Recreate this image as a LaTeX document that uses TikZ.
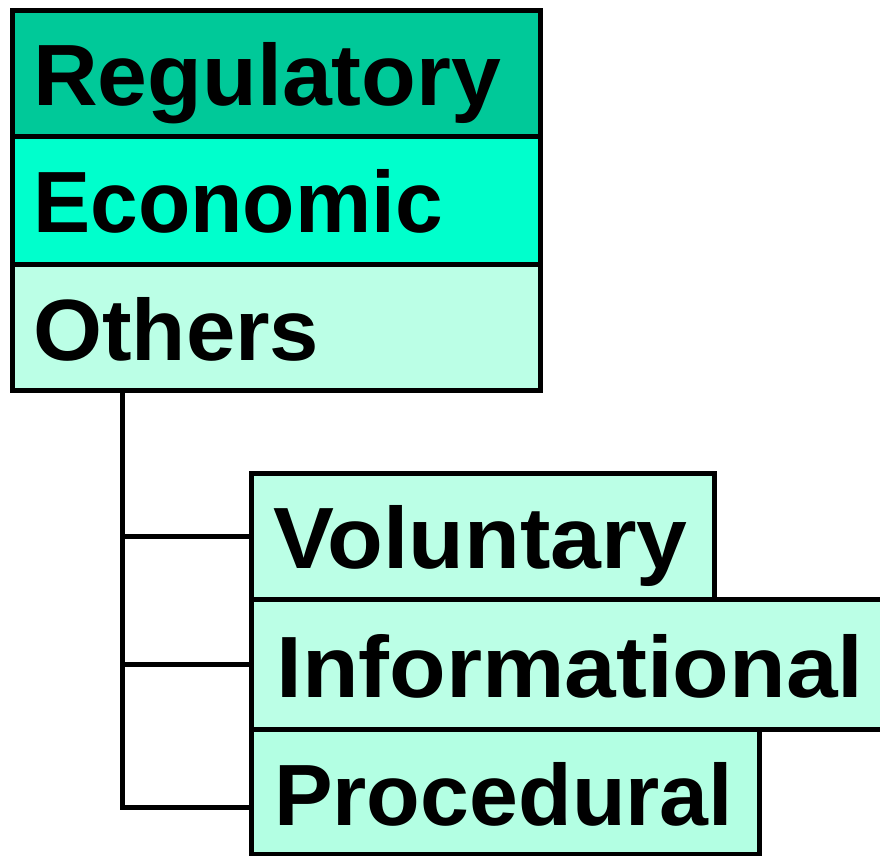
\documentclass[tikz,border=0pt]{standalone}
\usepackage{fontspec}
\setmainfont{Liberation Sans}
\definecolor{regc}{HTML}{00C999}
\definecolor{ecoc}{HTML}{00FFCC}
\definecolor{othc}{HTML}{BBFFE6}
\definecolor{subc}{HTML}{B3FFE3}
\begin{document}
\begin{tikzpicture}[x=1pt,y=-1pt,
  box/.style={draw=black,line width=5pt,rectangle,anchor=north west,inner sep=0pt},
  lbl/.style={anchor=base west,inner sep=0pt,font=\fontsize{87}{90}\selectfont\bfseries},
  conn/.style={draw=black,line width=5pt,line join=miter}]
\useasboundingbox (0,0) rectangle (880,855);
\clip (0,0) rectangle (880,855);
% main stack
\node[box,fill=regc,minimum width=528,minimum height=126.5] (reg) at (9.5,7.5) {};
\node[box,fill=ecoc,minimum width=528,minimum height=128] (eco) at (9.5,134) {};
\node[box,fill=othc,minimum width=528,minimum height=126] (oth) at (9.5,262) {};
\node[lbl,xscale=1.03] (regt) at (33,105) {Regulatory};
\node[lbl,xscale=0.985] (ecot) at (33,232) {Economic};
\node[lbl,xscale=1.02] (otht) at (33,360) {Others};
% sub stack
\node[box,fill=othc,minimum width=463,minimum height=126] (vol) at (249,471) {};
\node[box,fill=othc,minimum width=650,minimum height=130] (inf) at (249,597) {};
\node[box,fill=subc,minimum width=508,minimum height=125] (pro) at (249,727) {};
\node[lbl,xscale=1.05] (volt) at (273,568) {Voluntary};
\node[lbl,xscale=1.066] (inft) at (276,697) {Informational};
\node[lbl,xscale=1.01] (prot) at (274,825) {Procedural};
% connectors
\coordinate (trunk) at (122,388);
\coordinate (pj) at (249,807);
\draw[conn] (trunk) |- (pj);
\draw[conn] (trunk |- vol.west) -- (vol.west);
\draw[conn] (trunk |- inf.west) -- (inf.west);
\end{tikzpicture}
\end{document}
